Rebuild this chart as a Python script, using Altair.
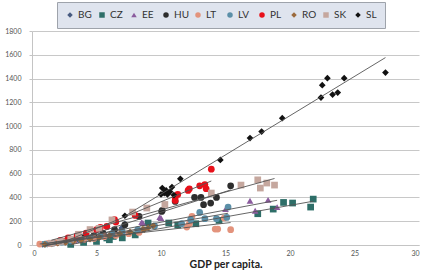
import altair as alt
import pandas as pd

# GDP per capita (x) and indicator value (y) for each country
countries = ["BG", "CZ", "EE", "HU", "LT", "LV", "PL", "RO", "SK", "SL"]

gdp_BG = [0.8, 1.2, 1.6, 2.0, 2.5, 3.0, 3.6, 4.2, 4.9, 5.6, 6.3, 6.95, 7.2]
val_BG = [5, 8, 12, 18, 25, 32, 42, 55, 70, 90, 110, 143, 176]

gdp_CZ = [3.0, 4.0, 5.0, 5.8, 6.0, 6.3, 7.0, 8.0, 9.0, 10.6, 11.3, 12.7, 14.5, 17.5, 18.7, 19.5, 20.2, 21.6, 21.8]
val_CZ = [5, 22, 30, 59, 44, 72, 60, 85, 185, 185, 168, 179, 207, 263, 302, 358, 353, 319, 386]

gdp_EE = [1.2, 1.8, 2.5, 3.3, 4.0, 4.8, 5.5, 6.5, 8.5, 8.6, 9.9, 10.0, 15.0, 16.9, 17.3, 18.3, 19.0]
val_EE = [10, 18, 25, 40, 55, 70, 85, 110, 193, 185, 235, 227, 302, 372, 288, 380, 319]

gdp_HU = [2.5, 3.2, 4.0, 4.8, 5.5, 6.4, 7.2, 8.3, 10.05, 10.1, 11.1, 12.6, 13.1, 13.3, 13.85, 14.3, 15.4]
val_HU = [30, 45, 60, 80, 100, 130, 170, 240, 282, 291, 366, 400, 400, 339, 353, 400, 498]

gdp_LT = [0.6, 1.2, 1.8, 2.5, 3.2, 4.0, 4.8, 5.6, 6.5, 7.5, 8.3, 12.0, 12.2, 12.4, 14.2, 14.4, 14.9, 15.4]
val_LT = [8, 12, 20, 28, 35, 45, 55, 70, 80, 95, 105, 151, 179, 240, 134, 134, 227, 129]

gdp_LV = [1.0, 1.6, 2.3, 3.0, 3.8, 4.5, 5.3, 6.2, 7.0, 8.2, 9.5, 11.6, 12.3, 13.0, 13.4, 14.3, 15.1, 15.2]
val_LV = [8, 15, 25, 35, 45, 60, 75, 95, 110, 130, 160, 179, 213, 274, 221, 221, 232, 319]

gdp_PL = [2.2, 2.8, 3.5, 4.2, 5.0, 5.3, 5.8, 6.4, 6.5, 8.0, 11.1, 11.1, 11.3, 12.1, 12.2, 13.0, 13.4, 13.5, 13.9]
val_PL = [40, 60, 80, 100, 130, 148, 156, 213, 193, 249, 375, 400, 425, 459, 473, 498, 509, 473, 638]

gdp_RO = [1.0, 1.5, 2.0, 2.6, 3.2, 3.8, 4.5, 5.2, 6.0, 6.8, 7.6, 8.6, 8.7, 9.0, 9.4]
val_RO = [5, 10, 15, 22, 30, 38, 50, 62, 80, 95, 110, 134, 129, 143, 162]

gdp_SK = [1.5, 2.2, 3.0, 3.6, 4.5, 5.2, 6.2, 7.8, 8.9, 10.3, 13.9, 16.2, 17.5, 17.7, 18.2, 18.8]
val_SK = [15, 30, 50, 90, 130, 140, 211, 277, 311, 341, 437, 504, 548, 479, 521, 504]

gdp_SL = [7.2, 10.0, 10.1, 10.25, 10.4, 10.5, 10.7, 10.85, 11.0, 11.5, 14.6, 16.9, 17.8, 19.4, 22.4, 22.5, 22.9, 23.3, 23.7, 24.2, 27.4]
val_SL = [246, 425, 479, 437, 459, 425, 448, 487, 420, 557, 716, 899, 954, 1067, 1240, 1344, 1403, 1265, 1282, 1403, 1450]

series = {
    "BG": (gdp_BG, val_BG), "CZ": (gdp_CZ, val_CZ), "EE": (gdp_EE, val_EE),
    "HU": (gdp_HU, val_HU), "LT": (gdp_LT, val_LT), "LV": (gdp_LV, val_LV),
    "PL": (gdp_PL, val_PL), "RO": (gdp_RO, val_RO), "SK": (gdp_SK, val_SK),
    "SL": (gdp_SL, val_SL),
}

colors = ["#475a80", "#2e6e68", "#8b5b9e", "#2d2d2d", "#e3937c",
          "#5b8fa8", "#e8101a", "#9b6a3c", "#c5a79e", "#111111"]
shapes = ["diamond", "square", "triangle-up", "circle", "circle",
          "circle", "circle", "diamond", "square", "diamond"]

x_ticks = [0, 5, 10, 15, 20, 25, 30]
y_ticks = [0, 200, 400, 600, 800, 1000, 1200, 1400, 1600, 1800]

rows = []
for c in countries:
    xs, ys = series[c]
    for x, y in zip(xs, ys):
        rows.append({"country": c, "gdp": x, "value": y})
df = pd.DataFrame(rows)

x_enc = alt.X("gdp:Q", title="GDP per capita.",
              scale=alt.Scale(domain=[0, 30], nice=False),
              axis=alt.Axis(values=x_ticks, grid=False, ticks=False,
                            labelPadding=4, labelFontSize=7, labelColor="#555555",
                            labelOverlap=False, format="d",
                            titleFontSize=10.5, titleFontWeight="bold", titleColor="#222222",
                            titlePadding=3, domainColor="#c4c4c4"))
y_enc = alt.Y("value:Q", title=None,
              scale=alt.Scale(domain=[0, 1800], nice=False),
              axis=alt.Axis(values=y_ticks, grid=True, gridColor="#c8c8c8",
                            tickSize=3, tickColor="#c4c4c4", labelPadding=8, labelFontSize=7,
                            labelOverlap=False, format="d",
                            labelColor="#555555", domainColor="#c4c4c4"))

points = alt.Chart(df).mark_point(filled=True, opacity=1, size=45).encode(
    x=x_enc,
    y=y_enc,
    color=alt.Color("country:N", scale=alt.Scale(domain=countries, range=colors),
                    legend=alt.Legend(title=None, orient="none", legendX=25, legendY=-29,
                                      direction="horizontal", columns=10, gridAlign="all",
                                      fillColor="#dfe4ee", strokeColor="#9ea3ab", padding=8,
                                      labelFontSize=10, labelColor="#333333", symbolSize=30,
                                      columnPadding=4, labelOffset=3, symbolStrokeWidth=0)),
    shape=alt.Shape("country:N", scale=alt.Scale(domain=countries, range=shapes)),
)

# linear trend per country over its own GDP range
trends = alt.Chart(df).transform_regression(
    "gdp", "value", groupby=["country"]
).mark_line(color="#555555", strokeWidth=0.9).encode(
    x=x_enc, y=y_enc, detail="country:N"
)

chart = alt.layer(points, trends).properties(
    width=387, height=214,
    autosize=alt.AutoSizeParams(type="none"),
    padding={"left": 32, "top": 31, "right": 4, "bottom": 26},
).configure(font="Lato").configure_axis(labelOverlap=False).configure_view(stroke=None)

chart.save("out.html", embed_options={"renderer": "svg", "actions": False})
